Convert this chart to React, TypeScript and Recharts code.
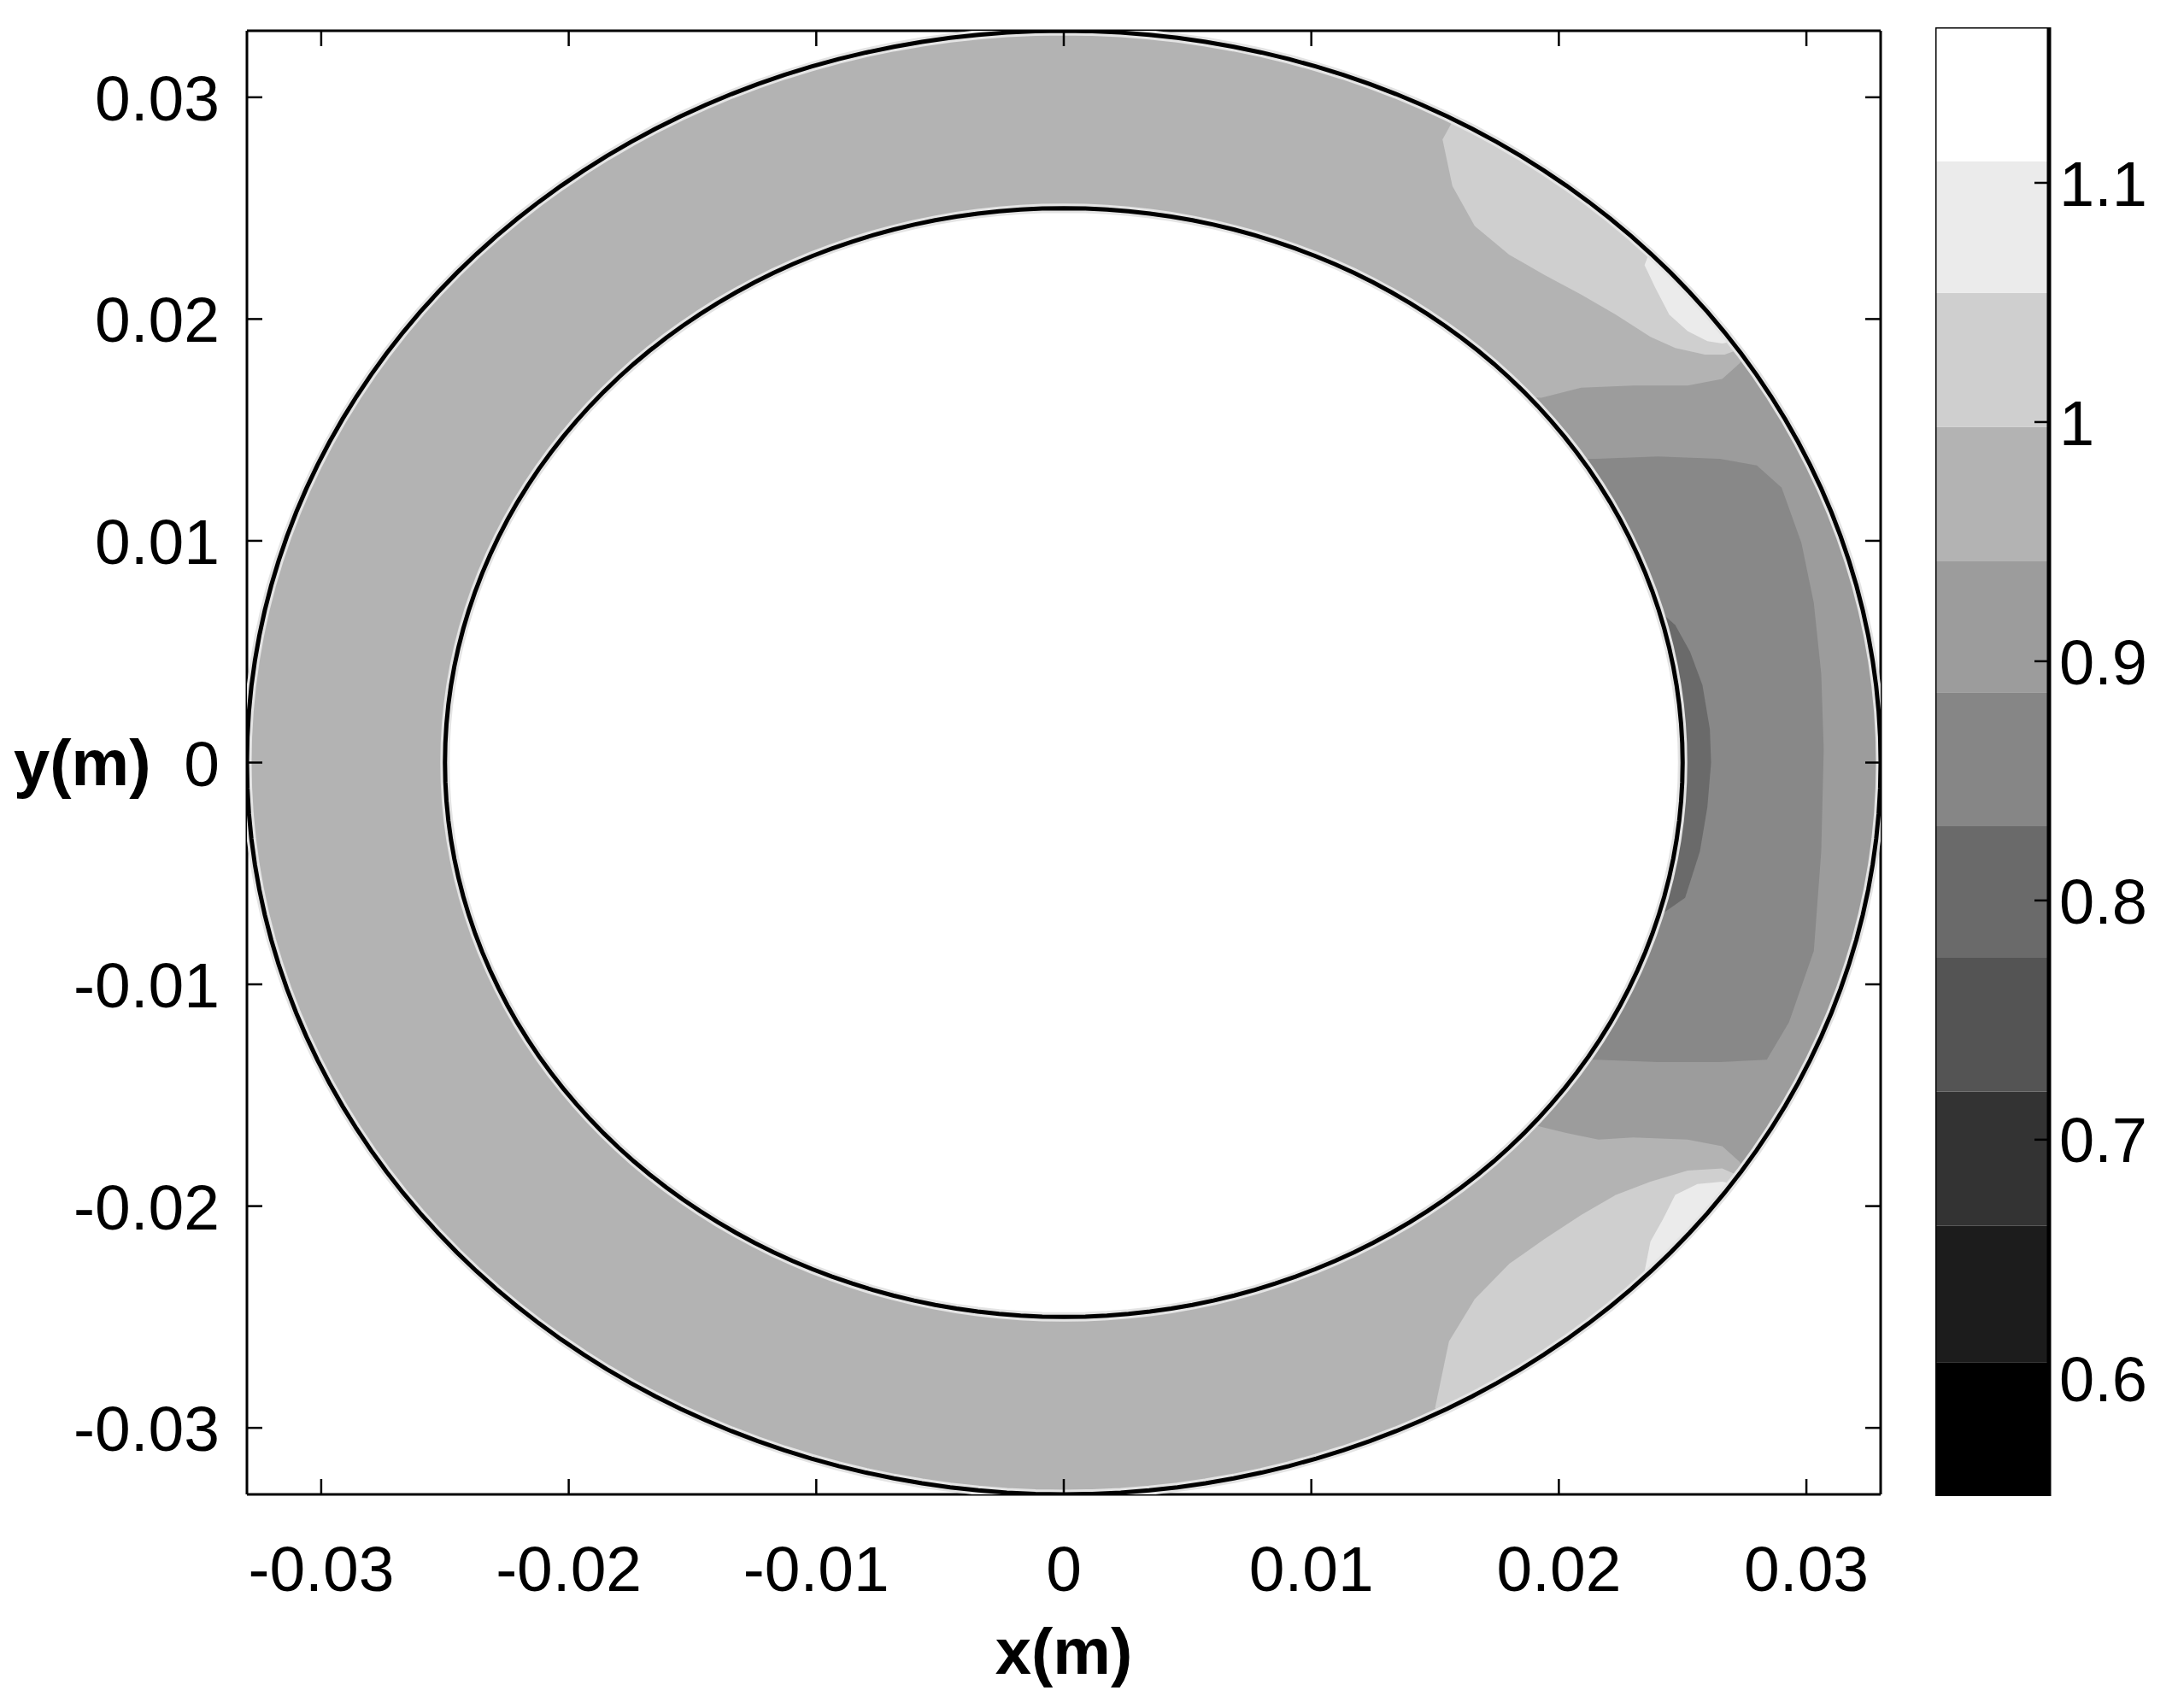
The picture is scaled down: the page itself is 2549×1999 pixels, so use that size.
import React from 'react';
import { ScatterChart, Scatter, XAxis, YAxis } from 'recharts';

// axes (m)
const X_TICKS = [-0.03, -0.02, -0.01, 0, 0.01, 0.02, 0.03];
const Y_TICKS = [-0.03, -0.02, -0.01, 0, 0.01, 0.02, 0.03];
const AXIS_DOMAIN = [-0.033, 0.033];

// pipe wall radii (m)
const R_OUTER = 0.033;
const R_INNER = 0.025;

// colour bar: level edges bottom to top, one fill per band
const LEVELS = [0.551, 0.607, 0.664, 0.72, 0.776, 0.831, 0.887, 0.942, 0.998, 1.054, 1.109, 1.165];
const LEVEL_FILLS = ['#000000', '#1c1c1c', '#333333', '#545454', '#6a6a6a', '#868686', '#9c9c9c', '#b3b3b3', '#cfcfcf', '#ebebeb', '#ffffff'];
const BAR_TICKS = [0.6, 0.7, 0.8, 0.9, 1, 1.1];

// contour edges, [x, y] in metres
// 0.89-0.94 band: top edge (bore -> wall) and bottom edge (wall -> bore)
const MID_TOP = [[0.015, 0.0166], [0.0193, 0.01645], [0.0209, 0.0169], [0.023, 0.017], [0.0252, 0.017], [0.0266, 0.0173], [0.0273, 0.018], [0.0275, 0.0183]];
const MID_BOTTOM = [[0.02745, -0.0183], [0.0273, -0.018], [0.0266, -0.0173], [0.0252, -0.017], [0.023, -0.0169], [0.0216, -0.017], [0.0203, -0.0167], [0.0191, -0.01637], [0.015, -0.0166]];
// 0.83-0.89 band
const LOW_BAND = [[0.018, 0.0137], [0.0215, 0.0137], [0.024, 0.0138], [0.0265, 0.0137], [0.028, 0.0134], [0.029, 0.0124], [0.0298, 0.0099], [0.0303, 0.0072], [0.0306, 0.004], [0.0307, 0.0006], [0.0306, -0.004], [0.0303, -0.0085], [0.0293, -0.0117], [0.0284, -0.0134], [0.0265, -0.0135], [0.024, -0.0135], [0.0215, -0.0134], [0.018, -0.0134]];
// 0.78-0.83 band, against the bore
const MIN_BAND = [[0.022, 0.007], [0.024, 0.0069], [0.0247, 0.0062], [0.0253, 0.005], [0.0258, 0.0035], [0.0261, 0.0015], [0.02615, 0], [0.026, -0.002], [0.0257, -0.004], [0.0251, -0.0061], [0.0242, -0.0068], [0.022, -0.0068]];
// 1.0-1.05 and 1.05-1.11 patches against the outer wall (wall -> inside -> wall)
const HIGH_TOP = [[0.01575, 0.029], [0.0153, 0.0281], [0.0157, 0.026], [0.0166, 0.0242], [0.018, 0.0229], [0.0194, 0.022], [0.0209, 0.0211], [0.0223, 0.0202], [0.0237, 0.0192], [0.0247, 0.0187], [0.0259, 0.0184], [0.0267, 0.0184], [0.0272, 0.0186]];
const PEAK_TOP = [[0.02366, 0.023], [0.02346, 0.02243], [0.0239, 0.0214], [0.02446, 0.0202], [0.0252, 0.01946], [0.026, 0.019], [0.0266, 0.0189], [0.0271, 0.019]];
const HIGH_BOTTOM = [[0.015, -0.0291], [0.01556, -0.0261], [0.0166, -0.0242], [0.018, -0.0226], [0.0194, -0.0215], [0.0209, -0.0204], [0.0223, -0.0195], [0.0237, -0.0189], [0.0252, -0.0184], [0.0266, -0.0183], [0.0272, -0.0186]];
const PEAK_BOTTOM = [[0.0234, -0.0233], [0.0237, -0.0216], [0.0242, -0.0206], [0.0247, -0.0195], [0.0256, -0.019], [0.0266, -0.0189], [0.0271, -0.019]];

const FONT = 'Liberation Sans, Arial, sans-serif';

const toPts = (pairs: number[][]) => pairs.map(([x, y]) => ({ x, y }));
const deg = ([x, y]: number[]) => (Math.atan2(y, x) * 180) / Math.PI;

// points along a wall circle
const arc = (r: number, fromDeg: number, toDeg: number) => {
  const n = Math.max(2, Math.ceil(Math.abs(toDeg - fromDeg) / 2));
  const out = [];
  for (let i = 0; i <= n; i++) {
    const a = ((fromDeg + ((toDeg - fromDeg) * i) / n) * Math.PI) / 180;
    out.push({ x: r * Math.cos(a), y: r * Math.sin(a) });
  }
  return out;
};

const wallPatch = (edge: number[][]) => [
  ...toPts(edge),
  ...arc(R_OUTER, deg(edge[edge.length - 1]), deg(edge[0])),
];

const outerDisk = arc(R_OUTER, 0, 360);
const innerDisk = arc(R_INNER, 0, 360);
const midBand = [
  ...toPts(MID_TOP),
  ...arc(R_OUTER, deg(MID_TOP[MID_TOP.length - 1]), deg(MID_BOTTOM[0])),
  ...toPts(MID_BOTTOM),
];

// colour bar bands as rectangles across the bar's unit width
const band = (lo: number, hi: number) => [
  { x: 0, y: lo },
  { x: 1, y: lo },
  { x: 1, y: hi },
  { x: 0, y: hi },
  { x: 0, y: lo },
];

const noDot = () => <g />;

const region = (key: string, data: any[], fill: string, stroke = 'none', strokeWidth = 0, xId: any = 0, yId: any = 0) => (
  <Scatter
    key={key}
    data={data}
    xAxisId={xId}
    yAxisId={yId}
    fill={fill}
    line={{ fill, stroke, strokeWidth }}
    lineJointType="linear"
    shape={noDot}
    isAnimationActive={false}
  />
);

const fmt = (v: number) => String(v);

const BottomTick = ({ x, y, payload }: any) => (
  <g>
    <line x1={x} y1={y} x2={x} y2={y - 18} stroke="#000" strokeWidth={2.5} />
    <text x={x} y={y + 113} textAnchor="middle" fontSize={75} fontFamily={FONT} fill="#000">
      {fmt(payload.value)}
    </text>
  </g>
);

const LeftTick = ({ x, y, payload }: any) => (
  <g>
    <line x1={x} y1={y} x2={x + 18} y2={y} stroke="#000" strokeWidth={2.5} />
    <text x={x - 32} y={y} dy="0.36em" textAnchor="end" fontSize={75} fontFamily={FONT} fill="#000">
      {fmt(payload.value)}
    </text>
  </g>
);

const TopTick = ({ x, y }: any) => <line x1={x} y1={y} x2={x} y2={y + 18} stroke="#000" strokeWidth={2.5} />;
const RightTick = ({ x, y }: any) => <line x1={x} y1={y} x2={x - 18} y2={y} stroke="#000" strokeWidth={2.5} />;

const BarTick = ({ x, y, payload }: any) => (
  <g>
    <line x1={x - 17} y1={y} x2={x} y2={y} stroke="#000" strokeWidth={2.5} />
    <text x={x + 12} y={y} dy="0.36em" textAnchor="start" fontSize={74} fontFamily={FONT} fill="#000">
      {fmt(payload.value)}
    </text>
  </g>
);

const frame = { stroke: '#000', strokeWidth: 3 };
const BAR_DOMAIN = [LEVELS[0], LEVELS[LEVELS.length - 1]];
const BAR_MARGIN = { top: 32, right: 0, bottom: 247, left: 0 };

export default function App() {
  return (
    <div style={{ position: 'absolute', left: 0, top: 0, width: 2549, height: 1999, background: '#fff' }}>
      <div style={{ position: 'absolute', left: 0, top: 0 }}>
        <ScatterChart width={2549} height={1999} margin={{ top: 35, right: 347, bottom: 0, left: 0 }}>
          <XAxis
            xAxisId={0}
            type="number"
            dataKey="x"
            domain={AXIS_DOMAIN}
            allowDataOverflow
            ticks={X_TICKS}
            interval={0}
            height={250}
            tickSize={0}
            tickMargin={0}
            tick={<BottomTick />}
            axisLine={frame}
            label={{ value: 'x(m)', position: 'insideBottom', offset: 40, fontSize: 76, fontWeight: 700, fontFamily: FONT, fill: '#000' }}
          />
          <YAxis
            yAxisId={0}
            type="number"
            dataKey="y"
            domain={AXIS_DOMAIN}
            allowDataOverflow
            ticks={Y_TICKS}
            interval={0}
            width={289}
            tickSize={0}
            tickMargin={0}
            tick={<LeftTick />}
            axisLine={frame}
            label={{ value: 'y(m)', position: 'insideLeft', offset: 16, angle: 0, fontSize: 76, fontWeight: 700, fontFamily: FONT, fill: '#000' }}
          />
          <XAxis
            xAxisId="top"
            orientation="top"
            type="number"
            dataKey="x"
            domain={AXIS_DOMAIN}
            allowDataOverflow
            ticks={X_TICKS}
            interval={0}
            height={1}
            tickSize={0}
            tickMargin={0}
            tick={<TopTick />}
            axisLine={frame}
          />
          <YAxis
            yAxisId="right"
            orientation="right"
            type="number"
            dataKey="y"
            domain={AXIS_DOMAIN}
            allowDataOverflow
            ticks={Y_TICKS}
            interval={0}
            width={1}
            tickSize={0}
            tickMargin={0}
            tick={<RightTick />}
            axisLine={frame}
          />
          {region('ring', outerDisk, '#b3b3b3')}
          {region('mid', midBand, '#9c9c9c')}
          {region('low', toPts(LOW_BAND), '#888888')}
          {region('min', toPts(MIN_BAND), '#6a6a6a')}
          {region('highTop', wallPatch(HIGH_TOP), '#cfcfcf')}
          {region('peakTop', wallPatch(PEAK_TOP), '#ebebeb')}
          {region('highBottom', wallPatch(HIGH_BOTTOM), '#cfcfcf')}
          {region('peakBottom', wallPatch(PEAK_BOTTOM), '#ebebeb')}
          {region('boreHalo', innerDisk, '#ffffff', '#e4e4e4', 11)}
          {region('wallHalo', outerDisk, 'none', '#e4e4e4', 11)}
          {region('bore', innerDisk, 'none', '#000', 5)}
          {region('wall', outerDisk, 'none', '#000', 5, 'top', 'right')}
        </ScatterChart>
      </div>
      <div style={{ position: 'absolute', left: 2265, top: 0 }}>
        <ScatterChart width={284} height={1999} margin={BAR_MARGIN}>
          <XAxis type="number" dataKey="x" domain={[0, 1]} allowDataOverflow height={1} tick={false} tickLine={false} axisLine={false} />
          <YAxis
            orientation="right"
            type="number"
            dataKey="y"
            domain={BAR_DOMAIN}
            allowDataOverflow
            width={151}
            tick={false}
            tickLine={false}
            axisLine={false}
          />
          {LEVEL_FILLS.map((c, i) => region(`band${i}`, band(LEVELS[i], LEVELS[i + 1]), c))}
          {region('barFrame', band(LEVELS[0], LEVELS[LEVELS.length - 1]), 'none', '#000', 3)}
        </ScatterChart>
      </div>
      <div style={{ position: 'absolute', left: 2265, top: 0 }}>
        <ScatterChart width={284} height={1999} margin={BAR_MARGIN}>
          <XAxis type="number" dataKey="x" domain={[0, 1]} allowDataOverflow height={1} tick={false} tickLine={false} axisLine={false} />
          <YAxis
            orientation="right"
            type="number"
            dataKey="y"
            domain={BAR_DOMAIN}
            allowDataOverflow
            ticks={BAR_TICKS}
            interval={0}
            width={151}
            tickSize={0}
            tickMargin={0}
            tick={<BarTick />}
            axisLine={{ stroke: '#000', strokeWidth: 5 }}
          />
        </ScatterChart>
      </div>
    </div>
  );
}
